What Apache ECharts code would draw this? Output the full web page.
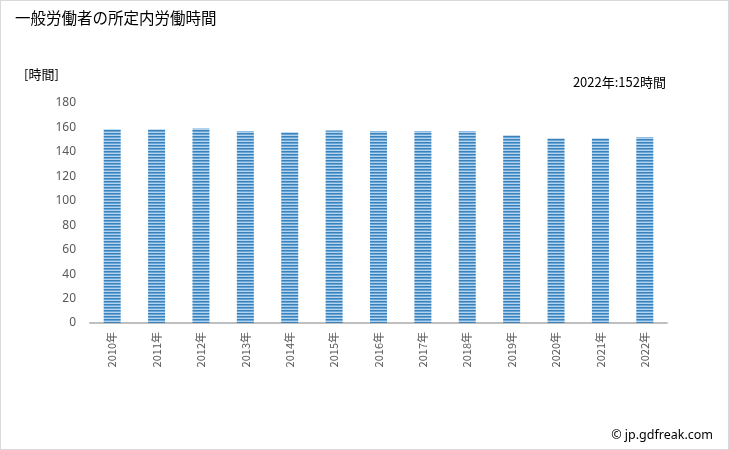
<!DOCTYPE html>
<html><head><meta charset="utf-8">
<script src="https://cdn.jsdelivr.net/npm/echarts@6/dist/echarts.min.js"></script>
<style>
html,body{margin:0;padding:0;background:#fff;}
#c{width:727px;height:448px;border:1px solid #d9d9d9;}
</style></head>
<body><div id="c"></div>
<script>
const categories = ['2010年','2011年','2012年','2013年','2014年','2015年','2016年','2017年','2018年','2019年','2020年','2021年','2022年'];
const values = [158.5, 158.5, 159.2, 156.9, 156.0, 157.6, 156.9, 156.9, 156.9, 153.6, 151.2, 151.2, 152];
const yTicks = [0, 20, 40, 60, 80, 100, 120, 140, 160, 180];

const pc = document.createElement('canvas');
pc.width = 4; pc.height = 3;
const ctx = pc.getContext('2d');
ctx.fillStyle = '#3b82bb'; ctx.fillRect(0,0,4,1);
ctx.fillStyle = '#6aa6d6'; ctx.fillRect(0,1,4,1);
ctx.fillStyle = '#b3d3ee'; ctx.fillRect(0,2,4,1);

const chart = echarts.init(document.getElementById('c'));
chart.setOption({
  animation: false,
  backgroundColor: '#fff',
  title: [
    {text: '一般労働者の所定内労働時間', left: 9, top: 4, textStyle: {fontFamily: 'Noto Sans CJK JP', fontSize: 15.5, fontWeight: 'normal', color: '#000'}},
    {text: '[時間]', left: 18, top: 62, textStyle: {fontFamily: 'Noto Sans CJK JP', fontSize: 13, fontWeight: 'normal', color: '#000'}},
    {text: '2022年:152時間', right: 57, top: 70, textStyle: {fontFamily: 'Noto Sans CJK JP', fontSize: 13, fontWeight: 'normal', color: '#000'}},
    {text: '© jp.gdfreak.com', right: 10, top: 423, textStyle: {fontFamily: 'Noto Sans', fontSize: 12.5, fontWeight: 'normal', color: '#000'}}
  ],
  grid: {left: 89, right: 61, top: 102, bottom: 126},
  xAxis: {
    type: 'category', data: categories,
    axisLine: {show: true, lineStyle: {color: '#bfbfbf', width: 2}},
    axisTick: {show: false},
    axisLabel: {rotate: 90, color: '#595959', fontSize: 11, fontFamily: 'Noto Sans CJK JP', margin: 9}
  },
  yAxis: {
    type: 'value', min: yTicks[0], max: yTicks[yTicks.length-1], interval: 20,
    axisLine: {show: false}, axisTick: {show: false},
    splitLine: {show: false},
    axisLabel: {color: '#595959', fontSize: 12, fontFamily: 'Noto Sans', margin: 14}
  },
  series: [{
    type: 'bar', data: values, barWidth: 17,
    itemStyle: {color: {image: pc, repeat: 'repeat'}}
  }]
});
</script></body></html>
